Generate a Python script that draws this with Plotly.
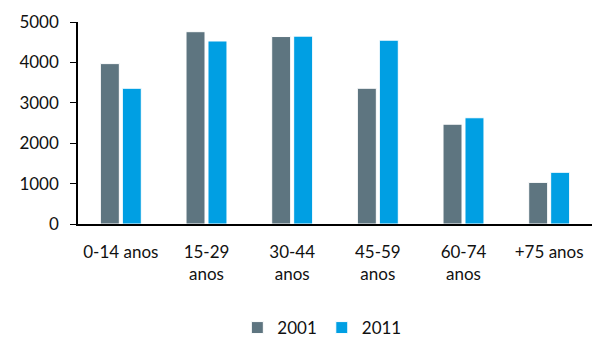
import plotly.graph_objects as go

categories = ["0-14 anos", "15-29<br>anos", "30-44<br>anos", "45-59<br>anos", "60-74<br>anos", "+75 anos"]
values_2001 = [3970, 4760, 4640, 3360, 2470, 1030]
values_2011 = [3360, 4530, 4650, 4550, 2630, 1280]
y_ticks = [0, 1000, 2000, 3000, 4000, 5000]

fig = go.Figure()
fig.add_trace(go.Bar(name="2001", x=categories, y=values_2001,
                     marker=dict(color="#5E7580", line=dict(color="#ffffff", width=1))))
fig.add_trace(go.Bar(name="2011", x=categories, y=values_2011,
                     marker=dict(color="#009FE3", line=dict(color="#ffffff", width=1))))

fig.update_layout(
    width=596, height=338,
    margin=dict(l=78, r=4, t=22, b=114, autoexpand=False),
    paper_bgcolor="white", plot_bgcolor="white",
    font=dict(family="Lato, Open Sans, sans-serif", size=17, color="#111111"),
    barmode="group", bargap=0.487, bargroupgap=0.136,
    showlegend=True,
    legend=dict(orientation="h", x=0.31, xanchor="left", y=-0.515, yanchor="middle",
                font=dict(size=17), itemwidth=30, traceorder="normal",
                bgcolor="rgba(0,0,0,0)"),
    xaxis=dict(showline=True, linecolor="black", linewidth=1.5, ticks="", showgrid=False,
               tickfont=dict(size=17), automargin=False, ticklabelstandoff=12),
    yaxis=dict(range=[0, 5000], tickvals=y_ticks, showline=True, linecolor="black", linewidth=1.5,
               ticks="outside", ticklen=6, tickcolor="black", showgrid=False, zeroline=False,
               tickfont=dict(size=17), automargin=False, ticklabelstandoff=8),
)

fig.write_html("out.html")
